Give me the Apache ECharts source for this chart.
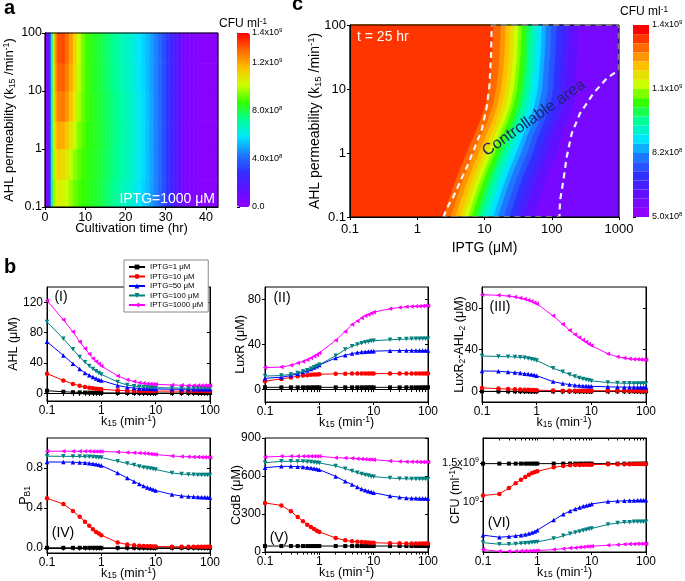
<!DOCTYPE html>
<html><head><meta charset="utf-8">
<script src="https://cdn.jsdelivr.net/npm/echarts@6/dist/echarts.min.js"></script>
<style>html,body{margin:0;padding:0;background:#fff}#c{width:685px;height:581px}</style>
</head><body><div id="c"></div><script>
// ---------- Panel a: CFU (x1e8 /ml) vs cultivation time and k15, IPTG=1000 uM ----------
const timeEdgesA = [0,0.5,1,1.5,2,2.5,3,4,5,6,7,8,9,10,11,12,13,14,15,16,17,18,19,20,21,22,23,24,25,26,27,28,29,30,31,32,33,34,35,36,37,38,39,40,41,42,43];
const k15EdgesA = [0.1,0.3,1,3,10,30,100];
const cfuA_r0 = [0.2,0.8,3.0,6.8,9.6,10.3,10.5,10.4,10.1,9.6,9.2,8.9,8.7,8.55,8.4,8.25,8.1,7.9,7.7,7.4,7.2,7.0,6.8,6.6,6.4,6.15,5.85,5.55,5.25,4.9,4.5,4.05,3.55,3.05,2.5,1.9,1.35,0.9,0.6,0.45,0.35,0.3,0.25,0.2,0.2,0.2];
const cfuA_r1 = [0.2,0.8,3.0,6.9,9.9,10.8,11.1,11.0,10.6,10.0,9.5,9.1,8.8,8.6,8.45,8.3,8.15,7.95,7.8,7.55,7.35,7.15,6.95,6.75,6.55,6.3,6.0,5.65,5.3,4.95,4.5,4.05,3.55,3.05,2.5,1.9,1.35,0.9,0.6,0.45,0.35,0.3,0.25,0.2,0.2,0.2];
const cfuA_r2 = [0.2,0.8,3.0,7.0,10.1,11.5,12.0,11.9,11.4,10.7,10.0,9.4,9.0,8.7,8.5,8.35,8.2,8.0,7.85,7.6,7.4,7.2,7.0,6.8,6.6,6.35,6.05,5.7,5.35,4.95,4.5,4.05,3.55,3.05,2.5,1.9,1.35,0.9,0.6,0.45,0.35,0.3,0.25,0.2,0.2,0.2];
const cfuA_r3 = [0.2,0.8,3.0,7.0,10.3,12.0,12.7,12.8,12.3,11.5,10.6,9.8,9.2,8.8,8.55,8.35,8.15,7.95,7.8,7.55,7.35,7.15,6.95,6.75,6.55,6.3,6.0,5.65,5.3,4.95,4.5,4.05,3.55,3.05,2.5,1.9,1.35,0.9,0.6,0.45,0.35,0.3,0.25,0.2,0.2,0.2];
const cfuA_r4 = [0.2,0.8,3.0,7.0,10.4,12.3,13.1,13.2,12.7,11.9,10.9,10.0,9.3,8.8,8.5,8.3,8.1,7.9,7.7,7.45,7.25,7.05,6.85,6.65,6.45,6.2,5.9,5.6,5.25,4.9,4.5,4.05,3.55,3.05,2.5,1.9,1.35,0.9,0.6,0.45,0.35,0.3,0.25,0.2,0.2,0.2];
const cfuA_r5 = [0.2,0.8,3.0,7.0,10.5,12.5,13.4,13.5,13.0,12.2,11.1,10.1,9.3,8.8,8.5,8.3,8.1,7.9,7.7,7.4,7.2,7.0,6.8,6.6,6.4,6.15,5.85,5.55,5.25,4.9,4.5,4.05,3.55,3.05,2.5,1.9,1.35,0.9,0.6,0.45,0.35,0.3,0.25,0.2,0.2,0.2];

// ---------- Panel c: CFU at t = 25 hr, contour levels (x1e8 /ml) ----------
const k15RowsC = [0.1,0.178,0.316,0.562,1,1.78,3.16,5.62,10,17.8,31.6,56.2,100];
const cfuLevelsC = [13.55,13.1,12.65,12.2,11.75,11.3,10.85,10.4,9.95,9.5,9.05,8.6,8.15,7.7,7.25,6.8,6.35,5.9];
const cfuPlateauLowC = 5.5;   // CFU right of the last contour
// log10(IPTG, uM) at which CFU drops below each level of cfuLevelsC, one array per k15 row
const logIptgCross_r00 = [0.385,0.495,0.565,0.635,0.695,0.755,0.805,0.865,0.92,0.985,1.05,1.125,1.195,1.285,1.37,1.47,1.58,1.725];
const logIptgCross_r01 = [0.46,0.57,0.64,0.71,0.77,0.83,0.88,0.94,0.995,1.06,1.125,1.20,1.27,1.36,1.445,1.545,1.655,1.80];
const logIptgCross_r02 = [0.54,0.65,0.72,0.79,0.85,0.91,0.96,1.02,1.075,1.14,1.205,1.28,1.35,1.44,1.525,1.625,1.735,1.88];
const logIptgCross_r03 = [0.63,0.74,0.81,0.88,0.94,1.00,1.05,1.11,1.165,1.23,1.295,1.37,1.44,1.53,1.615,1.715,1.825,1.97];
const logIptgCross_r04 = [0.73,0.84,0.91,0.98,1.04,1.10,1.15,1.21,1.265,1.33,1.395,1.47,1.54,1.63,1.715,1.815,1.925,2.07];
const logIptgCross_r05 = [0.83,0.94,1.01,1.08,1.14,1.20,1.25,1.31,1.362,1.425,1.488,1.56,1.625,1.71,1.79,1.89,1.99,2.13];
const logIptgCross_r06 = [0.93,1.04,1.11,1.18,1.24,1.30,1.35,1.41,1.462,1.525,1.588,1.66,1.725,1.81,1.89,1.99,2.09,2.23];
const logIptgCross_r07 = [1.01,1.12,1.19,1.26,1.32,1.38,1.43,1.49,1.542,1.605,1.668,1.74,1.805,1.89,1.97,2.07,2.17,2.31];
const logIptgCross_r08 = [1.06,1.17,1.24,1.31,1.37,1.43,1.48,1.54,1.592,1.655,1.718,1.79,1.855,1.94,2.02,2.12,2.22,2.36];
const logIptgCross_r09 = [1.09,1.20,1.27,1.34,1.40,1.46,1.51,1.57,1.62,1.68,1.74,1.81,1.87,1.95,2.03,2.12,2.22,2.36];
const logIptgCross_r10 = [1.11,1.22,1.29,1.36,1.42,1.48,1.53,1.59,1.64,1.70,1.76,1.83,1.89,1.97,2.05,2.14,2.24,2.37];
const logIptgCross_r11 = [1.12,1.23,1.30,1.37,1.43,1.49,1.54,1.60,1.65,1.71,1.77,1.84,1.90,1.98,2.06,2.15,2.25,2.38];
const logIptgCross_r12 = [1.13,1.24,1.31,1.38,1.44,1.50,1.55,1.61,1.66,1.72,1.78,1.85,1.91,1.99,2.07,2.16,2.26,2.39];
const cbLabelsC = [5,8.15,11.3,14.45];
const cbTicksC = [5,6.575,8.15,9.725,11.3,12.875,14.45];
// dashed "controllable area" outline
const boundaryIPTG = [2.44,2.9,3.44,4.33,5.75,7.23,9.08,10.8,11.8,12.5,12.8,1000,1000,656,415,263,198,167,149,133,130,2.44];
const boundaryK15  = [0.1,0.152,0.206,0.353,0.684,1.25,2.27,5.27,10.8,31.9,100,100,20,14.6,8.53,4.15,2.02,0.87,0.375,0.182,0.1,0.1];

// ---------- Panel b: six small plots ----------
const k15 = [0.1,0.2,0.3,0.4,0.5,0.6,0.7,0.8,0.9,1,2,3,4,5,6,7,8,9,10,20,30,40,50,60,70,80,90,100];
const seriesNames = ['IPTG=1 μM','IPTG=10 μM','IPTG=50 μM','IPTG=100 μM','IPTG=1000 μM'];
const minorLogTicks = [0.1,0.2,0.3,0.4,0.5,0.6,0.7,0.8,0.9,1,2,3,4,5,6,7,8,9,10,20,30,40,50,60,70,80,90,100];
// (I) AHL (uM)
const ahl_1    = [3.5,2.2,1.6,1.3,1.1,1.0,0.9,0.8,0.8,0.7,0.6,0.5,0.5,0.5,0.5,0.5,0.5,0.5,0.5,0.5,0.5,0.5,0.5,0.5,0.5,0.5,0.5,0.5];
const ahl_10   = [26,17,12.5,10,8.5,7.5,6.8,6.2,5.8,5.4,4.0,3.5,3.3,3.2,3.1,3.1,3.0,3.0,3.0,3.0,3.0,3.0,3.0,3.0,3.0,3.0,3.0,3.0];
const ahl_50   = [68,50,39,32,27,24,21.5,19.5,18,17,10.5,8,7,6.5,6.2,6,6,5.8,5.8,5.5,5.5,5.5,5.5,5.5,5.5,5.5,5.5,5.5];
const ahl_100  = [94,72,58,48,41,36,32,29,27,25,15,11,9.5,8.8,8.3,8,7.8,7.6,7.5,7.2,7,7,7,7,7,7,7,7];
const ahl_1000 = [122,97,81,68,59,52,46,42,39,36,23,18,15.5,14,13.2,12.8,12.4,12.2,12,11,10.8,10.5,10.5,10.5,10.5,10.5,10.5,10.5];
// (II) LuxR (uM)
const luxr_1    = [2,2,2,2,2,2,2,2,2,2,2,2,2,2,2,2,2,2,2,2,2,2,2,2,2,2,2,2];
const luxr_10   = [7.5,9.5,10.8,11.8,12.4,12.8,13.1,13.3,13.5,13.6,14,14.1,14.2,14.2,14.2,14.2,14.2,14.2,14.2,14.2,14.2,14.2,14.2,14.2,14.2,14.2,14.2,14.2];
const luxr_50   = [10,11,12.5,14,15.5,17,18.3,19.5,20.7,21.8,28,30.5,32,32.8,33.3,33.6,33.8,34,34.1,34.5,34.6,34.7,34.7,34.7,34.7,34.7,34.7,34.7];
const luxr_100  = [12,12.5,13.5,14.8,16,17.2,18.5,19.8,21,22,30,35.5,38.5,40,41,42,42.5,43,43.3,44.2,44.6,44.8,45,45,45.1,45.2,45.2,45.2];
const luxr_1000 = [19.5,20,21.5,23.6,25,26.5,28,29.5,31,32.5,43.7,51.6,57.8,60.8,63.4,65.5,66.7,67.8,68.7,71.7,72.9,73.4,73.8,74,74,74.2,74.3,74.3];
// (III) LuxR2-AHL2 (uM)
const lra_1    = [0.2,0.2,0.2,0.2,0.2,0.2,0.2,0.2,0.2,0.2,0.2,0.2,0.2,0.2,0.2,0.2,0.2,0.2,0.2,0.2,0.2,0.2,0.2,0.2,0.2,0.2,0.2,0.2];
const lra_10   = [3.5,2.8,2.4,2.1,1.9,1.7,1.6,1.5,1.4,1.3,0.9,0.8,0.7,0.7,0.7,0.7,0.7,0.7,0.7,0.7,0.7,0.7,0.7,0.7,0.7,0.7,0.7,0.7];
const lra_50   = [19.7,19.4,18.7,18.1,17.8,17.1,16.8,16.2,15.9,15.2,9.5,7.6,6.7,6,5.7,5.4,5.2,5.1,5,4.5,4.3,4.2,4.2,4.2,4.2,4.2,4.2,4.2];
const lra_100  = [34,33.6,33.3,33,32.7,32.4,31.7,31,30.5,29.8,22.2,19,16.2,14.3,13,12,11.4,10.8,10.2,8.6,8.2,8,7.9,7.8,7.8,7.8,7.8,7.8];
const lra_1000 = [92.7,92,91.4,90.5,89.5,88.6,87.3,86.3,85,84,72.4,64.4,58.7,54.6,51.7,49.2,47.3,45.4,44,36.2,33.3,32,31.4,31,30.8,30.6,30.5,30.4];
// (IV) P_B1
const pb1_1    = [0.002,0.002,0.002,0.002,0.002,0.002,0.002,0.002,0.002,0.002,0.002,0.002,0.002,0.002,0.002,0.002,0.002,0.002,0.002,0.002,0.002,0.002,0.002,0.002,0.002,0.002,0.002,0.002];
const pb1_10   = [0.497,0.44,0.37,0.313,0.262,0.222,0.188,0.161,0.145,0.128,0.055,0.035,0.027,0.022,0.02,0.018,0.017,0.016,0.015,0.013,0.012,0.012,0.012,0.012,0.012,0.012,0.012,0.012];
const pb1_50   = [0.86,0.86,0.858,0.855,0.852,0.848,0.843,0.838,0.832,0.825,0.75,0.70,0.665,0.64,0.62,0.605,0.595,0.585,0.575,0.535,0.52,0.515,0.512,0.51,0.508,0.507,0.506,0.505];
const pb1_100  = [0.918,0.917,0.916,0.915,0.913,0.912,0.91,0.908,0.906,0.905,0.867,0.845,0.83,0.815,0.805,0.8,0.795,0.79,0.785,0.75,0.74,0.735,0.732,0.73,0.73,0.73,0.729,0.729];
const pb1_1000 = [0.968,0.968,0.968,0.967,0.967,0.967,0.966,0.966,0.966,0.965,0.96,0.955,0.952,0.95,0.947,0.944,0.941,0.938,0.935,0.92,0.915,0.912,0.91,0.909,0.908,0.907,0.907,0.906];
// (V) CcdB (uM)
const ccdb_1    = [47,47,47,47,47,47,47,47,47,47,47,47,47,47,47,47,47,47,47,47,47,47,47,47,47,47,47,47];
const ccdb_10   = [387,368,321,276,242,216,197,182,168,158,111,92,84,81,78,76,75,74,73,70,69,68,68,67,67,67,67,67];
const ccdb_50   = [666,676,676,674,671,668,663,660,655,650,597,558,532,513,497,487,479,474,468,442,432,426,424,424,423,423,422,422];
const ccdb_100  = [705,716,716,715,714,712,710,707,705,703,679,658,640,626,616,608,603,597,595,584,579,578,577,577,576,576,576,576];
const ccdb_1000 = [750,755,755,755,755,755,755,755,755,755,745,742,740,737,735,733,731,730,729,718,715,713,712,712,711,711,711,711];
// (VI) CFU (x1e9 /ml)
const cfu_1    = [1.49,1.49,1.49,1.49,1.49,1.49,1.49,1.49,1.49,1.49,1.49,1.49,1.49,1.49,1.49,1.49,1.49,1.49,1.49,1.49,1.49,1.49,1.49,1.49,1.49,1.49,1.49,1.49];
const cfu_10   = [1.066,1.084,1.152,1.214,1.258,1.294,1.326,1.35,1.364,1.374,1.433,1.453,1.464,1.468,1.47,1.472,1.473,1.474,1.474,1.479,1.48,1.481,1.482,1.483,1.483,1.484,1.484,1.484];
const cfu_50   = [0.703,0.688,0.693,0.698,0.703,0.708,0.715,0.722,0.73,0.741,0.824,0.875,0.906,0.925,0.94,0.953,0.96,0.967,0.976,1.0,1.005,1.008,1.011,1.011,1.014,1.014,1.014,1.014];
const cfu_100  = [0.65,0.639,0.639,0.641,0.644,0.646,0.648,0.65,0.653,0.655,0.678,0.698,0.713,0.723,0.731,0.739,0.744,0.75,0.754,0.787,0.798,0.804,0.806,0.809,0.809,0.809,0.809,0.809];
const cfu_1000 = [0.604,0.593,0.593,0.593,0.595,0.595,0.595,0.597,0.597,0.598,0.604,0.61,0.614,0.616,0.619,0.621,0.624,0.624,0.626,0.632,0.636,0.639,0.641,0.641,0.643,0.643,0.643,0.643];

// ---------- styling ----------
const FONT = 'Liberation Sans, Arial, Helvetica, sans-serif';
const PALETTE = ['#8f00ff','#6010ff','#3030ff','#1e78ff','#00e5ff','#00ff99','#33ff00','#ccff00','#ffc000','#ff6a00','#ff0000'];
const LINE_COLORS = ['#000000','#ff0000','#0000ff','#008080','#ff00ff'];
const SYMBOLS = ['rect','circle','triangle','triangle','triangle'];
const SYM_ROT = [0,0,0,180,90];

function richName(size) {
  return {
    n: {fontSize: size, fontFamily: FONT, color: '#000'},
    sub: {fontSize: size * 0.68, fontFamily: FONT, color: '#000', padding: [size * 0.45, 0, 0, 0]},
    sup: {fontSize: size * 0.68, fontFamily: FONT, color: '#000', padding: [0, 0, size * 0.45, 0]}
  };
}
const cbRich = {b: {fontSize: 9, fontFamily: FONT, color: '#000'}, s: {fontSize: 6, fontFamily: FONT, color: '#000', padding: [0, 0, 5, 0]}};
function sciLabel(vE8) {
  const v = vE8 * 1e8;
  if (Math.abs(v) < 1) return '{b|0.0}';
  const e = Math.floor(Math.log10(v) + 1e-9);
  const m = v / Math.pow(10, e);
  return '{b|' + m.toFixed(1) + 'x10}{s|' + e + '}';
}
const plainNum = v => String(+(+v).toPrecision(6));
function axBase(extra) {
  return Object.assign({
    axisLine: {show: true, onZero: false, lineStyle: {color: '#000', width: 1}},
    axisTick: {show: true, length: 3, lineStyle: {color: '#000'}},
    axisLabel: {color: '#000', fontFamily: FONT, fontSize: 12, margin: 4, formatter: plainNum},
    splitLine: {show: false},
    nameMoveOverlap: false
  }, extra);
}
function cellsOf(xEdges, yEdges, rows) {
  const out = [];
  rows.forEach((row, j) => row.forEach((v, i) => out.push([xEdges[i], xEdges[i + 1], yEdges[j], yEdges[j + 1], v])));
  return out;
}
function renderCell(params, api) {
  const a = api.coord([api.value(0), api.value(2)]);
  const b = api.coord([api.value(1), api.value(3)]);
  const cs = params.coordSys;
  const x0 = Math.max(Math.min(a[0], b[0]), cs.x), x1 = Math.min(Math.max(a[0], b[0]), cs.x + cs.width);
  const y0 = Math.max(Math.min(a[1], b[1]), cs.y), y1 = Math.min(Math.max(a[1], b[1]), cs.y + cs.height);
  const c = api.visual('color');
  return {type: 'rect', shape: {x: x0, y: y0, width: Math.max(0, x1 - x0), height: Math.max(0, y1 - y0)},
          style: {fill: c, stroke: c, lineWidth: 0.6}};
}
// panel c: filled contour regions, drawn from the lowest level to the highest
const crossRowsC = [logIptgCross_r00, logIptgCross_r01, logIptgCross_r02, logIptgCross_r03, logIptgCross_r04, logIptgCross_r05,
  logIptgCross_r06, logIptgCross_r07, logIptgCross_r08, logIptgCross_r09, logIptgCross_r10, logIptgCross_r11, logIptgCross_r12];
const bandDataC = [[1, 1, -1, cfuPlateauLowC + 0.175]];
for (let j = cfuLevelsC.length - 1; j >= 0; j--) bandDataC.push([1, 1, j, cfuLevelsC[j] + 0.225]);
function renderBand(params, api) {
  const j = api.value(2);
  const c = api.visual('color');
  let pts;
  if (j < 0) {
    pts = [api.coord([0.1, 0.1]), api.coord([1000, 0.1]), api.coord([1000, 100]), api.coord([0.1, 100])];
  } else {
    pts = [api.coord([0.1, 0.1])];
    crossRowsC.forEach((row, r) => pts.push(api.coord([Math.pow(10, row[j]), k15RowsC[r]])));
    pts.push(api.coord([0.1, 100]));
  }
  return {type: 'polygon', shape: {points: pts}, style: {fill: c, stroke: c, lineWidth: 0.5}};
}

const frame = {show: true, borderColor: '#000', borderWidth: 1, backgroundColor: 'transparent'};
const grids = [
  Object.assign({left: 45, top: 33, width: 173, height: 174, z: 10}, frame),
  {left: 237, top: 33, width: 13, height: 174, show: false},
  Object.assign({left: 350, top: 25, width: 269, height: 192, z: 10}, frame),
  {left: 633, top: 25, width: 16, height: 192, show: false},
  Object.assign({left: 47, top: 287, width: 163, height: 114}, frame),
  Object.assign({left: 265, top: 287, width: 163, height: 115}, frame),
  Object.assign({left: 482, top: 287, width: 164, height: 115}, frame),
  Object.assign({left: 47, top: 438, width: 163, height: 115}, frame),
  Object.assign({left: 265, top: 438, width: 163, height: 114}, frame),
  Object.assign({left: 483, top: 438, width: 163, height: 114}, frame)
].map(g => Object.assign({outerBoundsMode: 'none', containLabel: false}, g));

const kName = '{n|k}{sub|15}{n| (min}{sup|-1}{n|)}';
const xAxes = [
  axBase({gridIndex: 0, type: 'value', min: 0, max: 43, interval: 10, z: 12,
    axisLabel: {color: '#000', fontFamily: FONT, fontSize: 12.5, margin: 4, formatter: plainNum},
    name: '{n|Cultivation time (hr)}', nameLocation: 'middle', nameGap: 15, nameTextStyle: {rich: richName(13)}}),
  {gridIndex: 1, type: 'value', min: 0, max: 1, show: false},
  axBase({gridIndex: 2, type: 'log', logBase: 10, min: 0.1, max: 1000, z: 12,
    axisLabel: {color: '#000', fontFamily: FONT, fontSize: 13, margin: 6, formatter: plainNum},
    name: '{n|IPTG (μM)}', nameLocation: 'middle', nameGap: 24, nameTextStyle: {rich: richName(14)}}),
  {gridIndex: 3, type: 'value', min: 0, max: 1, show: false}
];
const yAxes = [
  axBase({gridIndex: 0, type: 'log', logBase: 10, min: 0.1, max: 100, z: 12,
    axisLabel: {color: '#000', fontFamily: FONT, fontSize: 12.5, margin: 3, formatter: plainNum},
    name: '{n|AHL permeability (k}{sub|15}{n| /min}{sup|-1}{n|)}', nameLocation: 'middle', nameGap: 28, nameTextStyle: {rich: richName(13)}}),
  {gridIndex: 1, type: 'value', min: 0, max: 14.5, interval: 4, position: 'right',
    axisLine: {show: false}, splitLine: {show: false},
    axisTick: {show: true, length: 3, lineStyle: {color: '#000'}},
    axisLabel: {margin: 2, formatter: sciLabel, rich: cbRich}},
  axBase({gridIndex: 2, type: 'log', logBase: 10, min: 0.1, max: 100, z: 12,
    axisLabel: {color: '#000', fontFamily: FONT, fontSize: 13, margin: 4, formatter: plainNum},
    name: '{n|AHL permeability (k}{sub|15}{n| /min}{sup|-1}{n|)}', nameLocation: 'middle', nameGap: 27, nameTextStyle: {rich: richName(14)}}),
  {gridIndex: 3, type: 'value', min: 5, max: 14.45, position: 'right',
    axisLine: {show: false}, splitLine: {show: false},
    axisTick: {show: true, length: 3, lineStyle: {color: '#000'}, customValues: cbTicksC},
    axisLabel: {margin: 3, formatter: sciLabel, rich: cbRich, customValues: cbLabelsC}}
];

const smallPanels = [
  {yName: '{n|AHL (μM)}', gap: 27, min: -10, max: 140, labels: [0, 40, 80, 120], data: [ahl_1, ahl_10, ahl_50, ahl_100, ahl_1000]},
  {yName: '{n|LuxR (μM)}', gap: 18, min: -11, max: 91, labels: [0, 40, 80], data: [luxr_1, luxr_10, luxr_50, luxr_100, luxr_1000]},
  {yName: '{n|LuxR}{sub|2}{n|-AHL}{sub|2}{n| (μM)}', gap: 15, min: -10, max: 100, labels: [0, 40, 80], data: [lra_1, lra_10, lra_50, lra_100, lra_1000]},
  {yName: '{n|P}{sub|B1}', gap: 15, min: -0.05, max: 1.1, labels: [0, 0.4, 0.8], fmt: v => (+v).toFixed(1), data: [pb1_1, pb1_10, pb1_50, pb1_100, pb1_1000]},
  {yName: '{n|CcdB (μM)}', gap: 22, min: 0, max: 900, labels: [0, 300, 600, 900], data: [ccdb_1, ccdb_10, ccdb_50, ccdb_100, ccdb_1000]},
  {yName: '{n|CFU (ml}{sup|-1}{n|)}', gap: 20, log: true, min: 0.589, max: 1.95, labels: [1, 1.5], data: [cfu_1, cfu_10, cfu_50, cfu_100, cfu_1000]}
];

const series = [
  {type: 'custom', xAxisIndex: 0, yAxisIndex: 0, renderItem: renderCell, encode: {x: [0, 1], y: [2, 3]},
   data: cellsOf(timeEdgesA, k15EdgesA, [cfuA_r0, cfuA_r1, cfuA_r2, cfuA_r3, cfuA_r4, cfuA_r5]), silent: true, z: 2},
  {type: 'custom', xAxisIndex: 2, yAxisIndex: 2, renderItem: renderBand, encode: {x: 0, y: 1},
   data: bandDataC, silent: true, z: 2},
  {type: 'line', xAxisIndex: 2, yAxisIndex: 2, data: boundaryIPTG.map((x, i) => [x, boundaryK15[i]]),
   symbol: 'none', clip: false, silent: true, z: 5, lineStyle: {color: '#f4f4f4', width: 2.2, type: [6, 4.5]}}
];

smallPanels.forEach((p, k) => {
  const g = 4 + k;
  const yFmt = p.log ? (v => (Math.abs(v - 1) < 1e-6 ? '{b|10}{s|9}' : '{b|' + (+v).toFixed(1) + 'x10}{s|9}')) : (p.fmt || plainNum);
  xAxes.push(axBase({gridIndex: g, type: 'log', logBase: 10, min: 0.1, max: 100,
    name: kName, nameLocation: 'middle', nameGap: 13, nameTextStyle: {rich: richName(12.5)}}));
  yAxes.push(axBase({gridIndex: g, type: p.log ? 'log' : 'value', logBase: 10, min: p.min, max: p.max,
    axisLabel: {color: '#000', fontFamily: FONT, fontSize: 12, margin: 4, customValues: p.labels, formatter: yFmt,
      rich: {b: {fontSize: 11, fontFamily: FONT, color: '#000'}, s: {fontSize: 7, fontFamily: FONT, color: '#000', padding: [0, 0, 6, 0]}}},
    axisTick: {show: true, length: 3, lineStyle: {color: '#000'}, customValues: p.labels},
    name: p.yName, nameLocation: 'middle', nameGap: p.gap, nameTextStyle: {rich: richName(12.5)}}));
  p.data.forEach((arr, s) => {
    series.push({type: 'line', name: seriesNames[s], xAxisIndex: g, yAxisIndex: g,
      data: k15.map((x, j) => [x, arr[j]]),
      symbol: SYMBOLS[s], symbolRotate: SYM_ROT[s], symbolSize: s === 0 ? 4 : 4.5,
      color: LINE_COLORS[s], itemStyle: {color: LINE_COLORS[s]}, lineStyle: {color: LINE_COLORS[s], width: 1},
      silent: true, z: 3 + s * 0.01});
  });
});
// mirrored frame ticks (top / right) for the small plots
smallPanels.forEach((p, k) => {
  const g = 4 + k;
  xAxes.push({gridIndex: g, type: 'log', logBase: 10, min: 0.1, max: 100, position: 'top',
    axisLine: {show: true, lineStyle: {color: '#000'}}, axisLabel: {show: false}, splitLine: {show: false},
    axisTick: {show: true, inside: true, length: 2.5, lineStyle: {color: '#000'}, customValues: minorLogTicks}});
  yAxes.push({gridIndex: g, type: p.log ? 'log' : 'value', logBase: 10, min: p.min, max: p.max, position: 'right',
    axisLine: {show: true, lineStyle: {color: '#000'}}, axisLabel: {show: false}, splitLine: {show: false},
    axisTick: {show: true, inside: true, length: 3, lineStyle: {color: '#000'}, customValues: p.labels}});
});

const T = (text, x, y, style) => ({type: 'text', x: x, y: y, silent: true, z: 100,
  style: Object.assign({text: text, fill: '#000', fontFamily: FONT}, style)});

const option = {
  animation: false,
  backgroundColor: '#ffffff',
  textStyle: {fontFamily: FONT},
  grid: grids,
  xAxis: xAxes,
  yAxis: yAxes,
  visualMap: [
    {type: 'continuous', seriesIndex: 0, dimension: 4, min: 0, max: 14.5, inRange: {color: PALETTE},
     left: 237, top: 33, itemWidth: 13, itemHeight: 174, calculable: false, padding: 0, hoverLink: false, text: null},
    {type: 'piecewise', seriesIndex: 1, dimension: 3, min: 5, max: 14.45, splitNumber: 21, precision: 4,
     inRange: {color: PALETTE}, left: 633, top: 25, itemWidth: 16, itemHeight: 192 / 21, itemGap: 0,
     showLabel: false, selectedMode: false, padding: 0, itemSymbol: 'rect', orient: 'vertical', hoverLink: false}
  ],
  legend: {left: 124, top: 260, orient: 'vertical', data: seriesNames, itemWidth: 16, itemHeight: 6, itemGap: 1.5,
    padding: [3, 5, 3, 4], backgroundColor: '#fff', borderColor: '#888', borderWidth: 1, borderRadius: 0,
    textStyle: {fontSize: 7.8, fontFamily: FONT, color: '#000'}, selectedMode: false, z: 20},
  series: series,
  graphic: [
    T('a', 4, 8, {fontSize: 20, fontWeight: 'bold', verticalAlign: 'middle'}),
    T('c', 292, 4, {fontSize: 20, fontWeight: 'bold', verticalAlign: 'middle'}),
    T('b', 4, 267, {fontSize: 20, fontWeight: 'bold', verticalAlign: 'middle'}),
    {type: 'text', x: 243, y: 24, z: 100, silent: true, style: {text: '{n|CFU ml}{sup|-1}', rich: richName(12), align: 'center', verticalAlign: 'middle'}},
    {type: 'text', x: 644, y: 12, z: 100, silent: true, style: {text: '{n|CFU ml}{sup|-1}', rich: richName(12), align: 'center', verticalAlign: 'middle'}},
    T('IPTG=1000 μM', 215, 199, {fontSize: 14, fill: '#ffffff', align: 'right', verticalAlign: 'middle'}),
    T('t = 25 hr', 357, 37, {fontSize: 14, fill: '#ffffff', align: 'left', verticalAlign: 'middle'}),
    Object.assign(T('Controllable area', 534, 118, {fontSize: 16, fill: '#1f2470', align: 'center', verticalAlign: 'middle'}), {rotation: 35 * Math.PI / 180}),
    T('(I)', 61, 297, {fontSize: 14, align: 'center', verticalAlign: 'middle'}),
    T('(II)', 282, 298, {fontSize: 14, align: 'center', verticalAlign: 'middle'}),
    T('(III)', 500, 307, {fontSize: 14, align: 'center', verticalAlign: 'middle'}),
    T('(IV)', 63, 533, {fontSize: 14, align: 'center', verticalAlign: 'middle'}),
    T('(V)', 279, 538, {fontSize: 14, align: 'center', verticalAlign: 'middle'}),
    T('(VI)', 499, 523, {fontSize: 14, align: 'center', verticalAlign: 'middle'})
  ]
};

const chart = echarts.init(document.getElementById('c'), null, {width: 685, height: 581});
chart.setOption(option);
</script></body></html>
